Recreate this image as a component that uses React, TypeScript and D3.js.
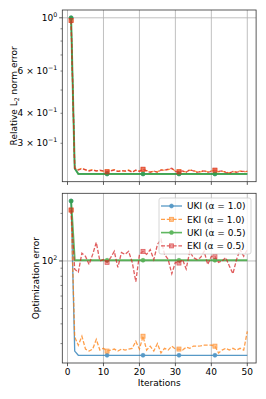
import React from "react";
import * as d3 from "d3";

const iterations = d3.range(1, 51);

// Relative L2 norm error (top panel)
const ukiA1L2 = [1.0, 0.235, 0.2236, 0.2236, 0.2236, 0.2236, 0.2236, 0.2236, 0.2236, 0.2236, 0.2236, 0.2236, 0.2236, 0.2236, 0.2236, 0.2236, 0.2236, 0.2236, 0.2236, 0.2236, 0.2236, 0.2236, 0.2236, 0.2236, 0.2236, 0.2236, 0.2236, 0.2236, 0.2236, 0.2236, 0.2236, 0.2236, 0.2236, 0.2236, 0.2236, 0.2236, 0.2236, 0.2236, 0.2236, 0.2236, 0.2236, 0.2236, 0.2236, 0.2236, 0.2236, 0.2236, 0.2236, 0.2236, 0.2236, 0.2236];
const ekiA1L2 = [0.974, 0.237, 0.233, 0.236, 0.232, 0.231, 0.233, 0.230, 0.231, 0.229, 0.229, 0.231, 0.233, 0.229, 0.231, 0.229, 0.232, 0.228, 0.231, 0.230, 0.233, 0.231, 0.228, 0.229, 0.228, 0.233, 0.231, 0.233, 0.235, 0.230, 0.229, 0.229, 0.228, 0.232, 0.231, 0.228, 0.228, 0.231, 0.228, 0.230, 0.231, 0.228, 0.229, 0.228, 0.226, 0.228, 0.228, 0.230, 0.228, 0.229];
const ukiA05L2 = [1.0, 0.236, 0.2236, 0.2236, 0.2236, 0.2236, 0.2236, 0.2236, 0.2236, 0.2236, 0.2236, 0.2236, 0.2236, 0.2236, 0.2236, 0.2236, 0.2236, 0.2236, 0.2236, 0.2236, 0.2236, 0.2236, 0.2236, 0.2236, 0.2236, 0.2236, 0.2236, 0.2236, 0.2236, 0.2236, 0.2236, 0.2236, 0.2236, 0.2236, 0.2236, 0.2236, 0.2236, 0.2236, 0.2236, 0.2236, 0.2236, 0.2236, 0.2236, 0.2236, 0.2236, 0.2236, 0.2236, 0.2236, 0.2236, 0.2236];
const ekiA05L2 = [0.974, 0.236, 0.232, 0.235, 0.233, 0.230, 0.232, 0.230, 0.232, 0.230, 0.228, 0.230, 0.232, 0.229, 0.230, 0.230, 0.231, 0.227, 0.232, 0.229, 0.234, 0.230, 0.227, 0.230, 0.227, 0.232, 0.232, 0.234, 0.236, 0.229, 0.228, 0.230, 0.227, 0.233, 0.230, 0.227, 0.229, 0.230, 0.227, 0.229, 0.232, 0.229, 0.230, 0.227, 0.225, 0.229, 0.227, 0.229, 0.229, 0.229];

// Optimization error (bottom panel)
const ukiA1Opt = [239.5, 26.9, 25.3, 25.3, 25.3, 25.3, 25.3, 25.3, 25.3, 25.3, 25.3, 25.3, 25.3, 25.3, 25.3, 25.3, 25.3, 25.3, 25.3, 25.3, 25.3, 25.3, 25.3, 25.3, 25.3, 25.3, 25.3, 25.3, 25.3, 25.3, 25.3, 25.3, 25.3, 25.3, 25.3, 25.3, 25.3, 25.3, 25.3, 25.3, 25.3, 25.3, 25.3, 25.3, 25.3, 25.3, 25.3, 25.3, 25.3, 25.3];
const ekiA1Opt = [210, 33, 29.3, 33.4, 27.7, 26.9, 27.7, 31.9, 27.3, 28.0, 26.9, 27.3, 27.7, 26.9, 27.7, 27.3, 27.7, 28.0, 31.0, 27.7, 33.4, 27.3, 28.9, 26.9, 30.0, 26.2, 28.0, 27.3, 28.9, 27.7, 27.7, 27.3, 28.5, 28.0, 28.9, 28.9, 29.0, 29.3, 29.3, 29.3, 28.9, 26.2, 27.3, 28.0, 27.3, 28.0, 27.3, 28.0, 27.3, 35.8];
const ukiA05Opt = [239.5, 101, 101, 101, 101, 101, 101, 101, 101, 101, 101, 101, 101, 101, 101, 101, 101, 101, 101, 101, 101, 101, 101, 101, 101, 101, 101, 101, 101, 101, 101, 101, 101, 101, 101, 101, 101, 101, 101, 101, 101, 101, 101, 101, 101, 101, 101, 101, 101, 101];
const ekiA05Opt = [210, 88.7, 85, 112, 107, 95, 110, 131, 100, 102, 98, 105, 115, 91, 113, 110, 115, 98, 74, 110, 115, 110, 118, 102, 127, 137, 110, 102, 83, 98, 97, 102, 89, 115, 105, 102, 105, 115, 95, 107, 107, 98, 100, 105, 93, 83, 102, 118, 107, 118];

const seriesNames = ["UKI (α = 1.0)", "EKI (α = 1.0)", "UKI (α = 0.5)", "EKI (α = 0.5)"];
const seriesColors = ["#1f77b4", "#ff7f0e", "#2ca02c", "#d62728"];
const seriesDashed = [false, true, false, true];
const seriesMarker = ["circle", "square", "circle", "square"];
const seriesWidth = [1.3, 1.3, 2.0, 1.3];
const xTicks = [0, 10, 20, 30, 40, 50];

const W = 266;
const H = 399;
const LEFT = 62.3;
const RIGHT = 256.1;
const FONT = "DejaVu Sans";

const x = d3
  .scaleLinear()
  .domain([1 - 49 * 0.05, 50 + 49 * 0.05])
  .range([LEFT, RIGHT]);

function logDomain(vals: number[]): [number, number] {
  const lo = Math.log10(d3.min(vals) as number);
  const hi = Math.log10(d3.max(vals) as number);
  const m = (hi - lo) * 0.05;
  return [Math.pow(10, lo - m), Math.pow(10, hi + m)];
}

function Marker({ kind, cx, cy, color }: { kind: string; cx: number; cy: number; color: string }) {
  if (kind === "circle") return <circle cx={cx} cy={cy} r={2} fill={color} stroke={color} strokeWidth={0.6} />;
  return <rect x={cx - 2} y={cy - 2} width={4} height={4} fill={color} fillOpacity={0.6} stroke={color} strokeWidth={0.8} />;
}

function LogLabel({ v, x0, y0 }: { v: number; x0: number; y0: number }) {
  const e = Math.floor(Math.log10(v) + 1e-9);
  const coef = Math.round(v / Math.pow(10, e));
  const expStr = e < 0 ? "−" + Math.abs(e) : String(e);
  return (
    <text x={x0} y={y0 + 3.2} textAnchor="end" fontFamily={FONT} fontSize={9} fill="#000">
      {coef === 1 ? "10" : `${coef} × 10`}
      <tspan dy={-4} fontSize={6.3}>{expStr}</tspan>
    </text>
  );
}

type PanelProps = {
  top: number;
  bottom: number;
  data: number[][];
  ylabel: React.ReactNode;
  ylabelX: number;
  showX: boolean;
  legend: boolean;
};

function Panel({ top, bottom, data, ylabel, ylabelX, showX, legend }: PanelProps) {
  const all = data.flat();
  const dom = logDomain(all);
  const y = d3.scaleLog().domain(dom).range([bottom, top]);
  const numdec = Math.log10(dom[1] / dom[0]);
  const sub = numdec > 1 ? new Set([1]) : numdec > 0.4 ? new Set([1, 2, 3, 4, 6, 10]) : new Set([1, 2, 3, 4, 5, 6, 7, 8, 9, 10]);
  const ticks = y.ticks().filter((t) => t >= dom[0] && t <= dom[1]);
  const line = d3
    .line<number>()
    .x((_, i) => x(iterations[i]))
    .y((d) => y(d));
  return (
    <g>
      {/* grid */}
      {xTicks.map((t) => (
        <line key={"gx" + t} x1={x(t)} x2={x(t)} y1={top} y2={bottom} stroke="#b0b0b0" strokeWidth={0.8} />
      ))}
      {ticks
        .filter((t) => {
          const e = Math.log10(t);
          return Math.abs(e - Math.round(e)) < 1e-9;
        })
        .map((t) => (
          <line key={"gy" + t} x1={LEFT} x2={RIGHT} y1={y(t)} y2={y(t)} stroke="#b0b0b0" strokeWidth={0.8} />
        ))}
      {/* series */}
      {data.map((vals, si) => (
        <g key={si} opacity={0.75}>
          <path
            d={line(vals) || ""}
            fill="none"
            stroke={seriesColors[si]}
            strokeWidth={seriesWidth[si]}
            strokeDasharray={seriesDashed[si] ? "4,1.8" : undefined}
          />
          {vals.map((v, i) =>
            i % 10 === 0 ? (
              <Marker key={i} kind={seriesMarker[si]} cx={x(iterations[i])} cy={y(v)} color={seriesColors[si]} />
            ) : null
          )}
        </g>
      ))}
      {/* frame */}
      <rect x={LEFT} y={top} width={RIGHT - LEFT} height={bottom - top} fill="none" stroke="#333" strokeWidth={0.8} />
      {/* x ticks */}
      {xTicks.map((t) => (
        <g key={"xt" + t}>
          <line x1={x(t)} x2={x(t)} y1={bottom} y2={bottom + 3.2} stroke="#333" strokeWidth={0.8} />
          {showX && (
            <text x={x(t)} y={bottom + 11.5} textAnchor="middle" fontFamily={FONT} fontSize={9} fill="#000">
              {t}
            </text>
          )}
        </g>
      ))}
      {/* y ticks */}
      {ticks.map((t) => {
        const e = Math.log10(t);
        const major = Math.abs(e - Math.round(e)) < 1e-9;
        const coef = Math.round(t / Math.pow(10, Math.floor(e + 1e-9)));
        const lab = sub.has(coef);
        return (
          <g key={"yt" + t}>
            <line x1={LEFT - (major ? 3.2 : 1.8)} x2={LEFT} y1={y(t)} y2={y(t)} stroke="#333" strokeWidth={major ? 0.8 : 0.6} />
            {lab && <LogLabel v={t} x0={LEFT - 5} y0={y(t)} />}
          </g>
        );
      })}
      {/* y label */}
      <text
        transform={`translate(${ylabelX},${(top + bottom) / 2}) rotate(-90)`}
        textAnchor="middle"
        fontFamily={FONT}
        fontSize={9}
        fill="#000"
      >
        {ylabel}
      </text>
      {showX && (
        <text x={(LEFT + RIGHT) / 2} y={bottom + 22.5} textAnchor="middle" fontFamily={FONT} fontSize={9} fill="#000">
          Iterations
        </text>
      )}
      {legend && (
        <g>
          <rect x={159} y={198} width={92} height={56} rx={2} fill="#fff" fillOpacity={0.8} stroke="#cccccc" strokeWidth={0.8} />
          {seriesNames.map((name, si) => {
            const cy = 206 + si * 13.3;
            return (
              <g key={name}>
                <g opacity={0.75}>
                  <line
                    x1={161}
                    x2={182}
                    y1={cy}
                    y2={cy}
                    stroke={seriesColors[si]}
                    strokeWidth={seriesWidth[si] > 1.5 ? 1.6 : 1.3}
                    strokeDasharray={seriesDashed[si] ? "4,1.8" : undefined}
                  />
                  <Marker kind={seriesMarker[si]} cx={171.5} cy={cy} color={seriesColors[si]} />
                </g>
                <text x={187} y={cy + 3.2} fontFamily={FONT} fontSize={9} fill="#000">
                  {name}
                </text>
              </g>
            );
          })}
        </g>
      )}
    </g>
  );
}

export default function App() {
  return (
    <svg
      width={W}
      height={H}
      viewBox={`0 0 ${W} ${H}`}
      style={{ position: "absolute", left: 0, top: 0, background: "#fff" }}
    >
      <rect x={0} y={0} width={W} height={H} fill="#fff" />
      <Panel
        top={10}
        bottom={181.7}
        data={[ukiA1L2, ekiA1L2, ukiA05L2, ekiA05L2]}
        ylabel={
          <>
            Relative L<tspan dy={2} fontSize={6.3}>2</tspan>
            <tspan dy={-2}> norm error</tspan>
          </>
        }
        ylabelX={16.8}
        showX={false}
        legend={false}
      />
      <Panel
        top={193.3}
        bottom={363}
        data={[ukiA1Opt, ekiA1Opt, ukiA05Opt, ekiA05Opt]}
        ylabel="Optimization error"
        ylabelX={38.5}
        showX={true}
        legend={true}
      />
    </svg>
  );
}
